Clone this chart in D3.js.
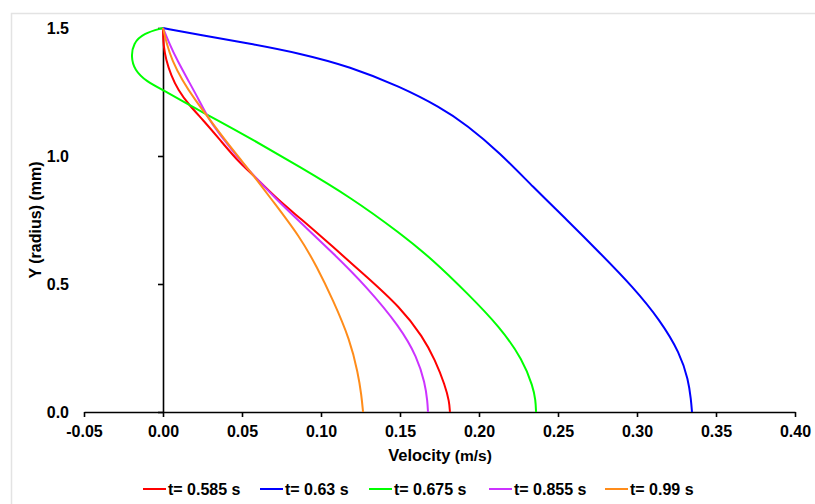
<!DOCTYPE html>
<html>
<head>
<meta charset="utf-8">
<script src="https://cdn.jsdelivr.net/npm/d3@7"></script>
<style>
  body { margin: 0; background: #fff; }
  svg { display: block; font-family: "Liberation Sans", Arial, sans-serif; }
  .axis path, .axis line { stroke: #000; stroke-width: 1.6; }
  .axis text { font-size: 16px; font-weight: bold; fill: #000; }
</style>
</head>
<body>
<svg id="chart" width="815" height="504"></svg>
<script>
// legend labels / series names
var seriesNames = ["t= 0.585 s", "t= 0.63 s", "t= 0.675 s", "t= 0.855 s", "t= 0.99 s"];
var seriesColors = ["#ff0000", "#0000ff", "#00ff00", "#cc33ff", "#ff8c1a"];

// tick values
var xTicks = [-0.05, 0, 0.05, 0.10, 0.15, 0.20, 0.25, 0.30, 0.35, 0.40];
var yTicks = [0, 0.5, 1.0, 1.5];

// t = 0.585 s  (velocity m/s, radius mm)
var v585 = [0, 0.0001, 0.0003, 0.0019, 0.0051, 0.0095, 0.0165, 0.0253, 0.0361, 0.0468, 0.057, 0.0728, 0.0867, 0.1076, 0.1291, 0.150, 0.1646, 0.1722, 0.1785, 0.1812, 0.1816];
var r585 = [1.5, 1.47, 1.434, 1.375, 1.316, 1.258, 1.199, 1.141, 1.063, 0.984, 0.926, 0.828, 0.758, 0.645, 0.527, 0.41, 0.293, 0.203, 0.105, 0.04, 0];

// t = 0.63 s
var v630 = [0, 0.0234, 0.0551, 0.0867, 0.1184, 0.150, 0.1753, 0.1924, 0.2133, 0.2342, 0.2557, 0.2766, 0.2975, 0.3146, 0.3272, 0.3325, 0.3342, 0.3348];
var r630 = [1.5, 1.473, 1.439, 1.401, 1.349, 1.271, 1.191, 1.121, 1.012, 0.879, 0.75, 0.621, 0.488, 0.359, 0.230, 0.125, 0.047, 0];

// t = 0.675 s
var v675 = [0, -0.0125, -0.0188, -0.0202, -0.0181, -0.0103, 0, 0.019, 0.0342, 0.0551, 0.0867, 0.1184, 0.150, 0.1709, 0.1924, 0.2133, 0.2278, 0.2342, 0.2358, 0.2361];
var r675 = [1.5, 1.479, 1.44, 1.388, 1.336, 1.29, 1.258, 1.191, 1.141, 1.07, 0.957, 0.84, 0.699, 0.594, 0.465, 0.332, 0.203, 0.098, 0.047, 0];

// t = 0.855 s
var v855 = [0, 0.0044, 0.0089, 0.0158, 0.0228, 0.0291, 0.0386, 0.0487, 0.057, 0.0722, 0.0867, 0.1076, 0.1291, 0.150, 0.1608, 0.1658, 0.1674, 0.1677];
var r855 = [1.5, 1.434, 1.375, 1.297, 1.219, 1.141, 1.063, 0.984, 0.926, 0.828, 0.742, 0.621, 0.488, 0.332, 0.215, 0.113, 0.04, 0];

// t = 0.99 s
var v990 = [0, 0.0025, 0.0057, 0.012, 0.0203, 0.0297, 0.0392, 0.0494, 0.057, 0.069, 0.0867, 0.0975, 0.1076, 0.1184, 0.1234, 0.1256, 0.1266];
var r990 = [1.5, 1.434, 1.375, 1.297, 1.219, 1.141, 1.063, 0.984, 0.926, 0.828, 0.684, 0.566, 0.4375, 0.281, 0.152, 0.066, 0];

var seriesV = [v585, v630, v675, v855, v990];
var seriesR = [r585, r630, r675, r855, r990];

var svg = d3.select("#chart");

// light frame of the chart area
svg.append("rect")
  .attr("x", 11.5).attr("y", 13.5)
  .attr("width", 830).attr("height", 520)
  .attr("fill", "none").attr("stroke", "#e3e3e3").attr("stroke-width", 1.5);

var x = d3.scaleLinear().domain([-0.05, 0.40]).range([84, 795]);
var y = d3.scaleLinear().domain([0, 1.5]).range([412, 28]);

var fmt2 = d3.format(".2f");
// x axis (crosses at y = 0)
var gx = svg.append("g")
  .attr("class", "axis")
  .attr("transform", "translate(0," + y(0) + ")")
  .call(d3.axisBottom(x).tickValues(xTicks)
        .tickFormat(function(d) { return fmt2(d).replace("\u2212", "-"); })
        .tickSize(5).tickSizeOuter(0).tickPadding(9));

// y axis (crosses at x = 0), labels pushed to the left edge
var gy = svg.append("g")
  .attr("class", "axis")
  .attr("transform", "translate(" + x(0) + ",0)")
  .call(d3.axisLeft(y).tickValues(yTicks).tickFormat(d3.format(".1f"))
        .tickSize(5).tickSizeOuter(0));
gy.selectAll("text").attr("x", 69 - x(0));

// curves (smoothed through the read-off points)
var line = d3.line()
  .x(function(d) { return x(d[0]); })
  .y(function(d) { return y(d[1]); })
  .curve(d3.curveBasis);

seriesNames.forEach(function(name, i) {
  var pts = seriesV[i].map(function(v, j) { return [v, seriesR[i][j]]; });
  svg.append("path")
    .datum(pts)
    .attr("d", line)
    .attr("fill", "none")
    .attr("stroke", seriesColors[i])
    .attr("stroke-width", 2);
});

// axis titles
var xt = svg.append("text")
  .attr("x", 440).attr("y", 461)
  .attr("text-anchor", "middle")
  .attr("font-weight", "bold");
xt.append("tspan").attr("font-size", "16.5px").text("Velocity");
xt.append("tspan").attr("font-size", "15.5px").text(" (m/s)");

svg.append("text")
  .attr("transform", "translate(41,220) rotate(-90)")
  .attr("text-anchor", "middle")
  .attr("font-size", "16px")
  .attr("font-weight", "bold")
  .text("Y (radius) (mm)");

// legend
var legendX = [143, 260, 369, 489, 605];
var legend = svg.append("g")
  .selectAll("g")
  .data(seriesNames)
  .enter().append("g")
  .attr("transform", function(d, i) { return "translate(" + legendX[i] + ",489)"; });

legend.append("line")
  .attr("x1", 0).attr("x2", 23)
  .attr("stroke", function(d, i) { return seriesColors[i]; })
  .attr("stroke-width", 2);

legend.append("text")
  .attr("x", 25)
  .attr("dy", "0.35em")
  .attr("font-size", "16px")
  .attr("font-weight", "bold")
  .text(function(d) { return d; });
</script>
</body>
</html>
